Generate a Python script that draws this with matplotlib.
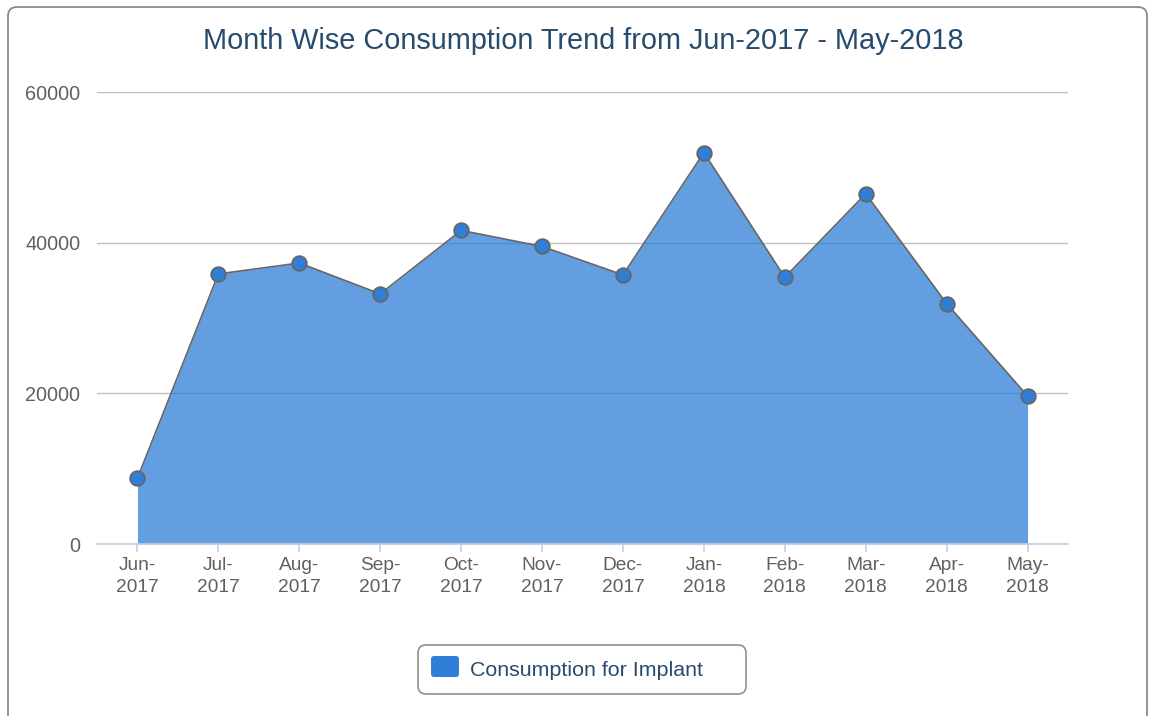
import matplotlib
matplotlib.use("Agg")
import matplotlib.pyplot as plt
from matplotlib.patches import FancyBboxPatch

plt.rcParams["font.family"] = ["Liberation Sans", "DejaVu Sans"]

# Data
months = ["Jun-\n2017", "Jul-\n2017", "Aug-\n2017", "Sep-\n2017", "Oct-\n2017", "Nov-\n2017",
          "Dec-\n2017", "Jan-\n2018", "Feb-\n2018", "Mar-\n2018", "Apr-\n2018", "May-\n2018"]
consumption = [8750, 35850, 37300, 33200, 41630, 39500,
               35720, 51960, 35400, 46490, 31920, 19640]
y_ticks = [0, 20000, 40000, 60000]
series_name = "Consumption for Implant"

BLUE = "#2F7ED8"
TITLE = "#274B6D"
LABEL = "#606060"
AXIS = "#C0D0E0"
GRID = "#C0C0C0"

fig = plt.figure(figsize=(11.5, 7.16), dpi=100)
fig.patch.set_facecolor("white")

# background frame + legend drawn in pixel coordinates
bg = fig.add_axes([0, 0, 1, 1], zorder=-5)
bg.set_xlim(0, 1150)
bg.set_ylim(716, 0)
bg.axis("off")
bg.add_patch(FancyBboxPatch((8, 7), 1139, 730,
                            boxstyle="round,pad=0,rounding_size=9",
                            facecolor="white", edgecolor="#8A8A8A", linewidth=1.3))

ax = fig.add_axes([97 / 1150, 1 - 544 / 716, (1068 - 97) / 1150, (544 - 92) / 716])
ax.patch.set_alpha(0)
x = list(range(len(months)))

ax.fill_between(x, consumption, 0, color=BLUE, alpha=0.75, linewidth=0, zorder=2)
ax.plot(x, consumption, color="#666666", linewidth=1.2, zorder=3,
        marker="o", markersize=10.5, markerfacecolor=BLUE,
        markeredgecolor="#666666", markeredgewidth=1.3)

ax.set_xlim(-0.5, len(months) - 0.5)
ax.set_ylim(0, 60000)
ax.set_yticks(y_ticks)
ax.set_yticklabels([str(v) for v in y_ticks])
ax.set_xticks(x)
ax.set_xticklabels(months, linespacing=1.45)

ax.grid(axis="y", color=GRID, linewidth=1.0, zorder=0)
ax.set_axisbelow(True)
for side in ["top", "right", "left"]:
    ax.spines[side].set_visible(False)
ax.spines["bottom"].set_color(AXIS)
ax.spines["bottom"].set_linewidth(1.2)
ax.spines["bottom"].set_zorder(4)

ax.tick_params(axis="y", length=0, pad=12, labelsize=14.3, labelcolor=LABEL)
ax.tick_params(axis="x", length=6, width=1.2, color=AXIS, pad=3,
               labelsize=13.8, labelcolor=LABEL)

fig.text(0.507, 1 - 41 / 716, "Month Wise Consumption Trend from Jun-2017 - May-2018",
         ha="center", va="center", fontsize=20.8, color=TITLE)

# legend box
bg.add_patch(FancyBboxPatch((418, 645), 328, 49,
                            boxstyle="round,pad=0,rounding_size=8",
                            facecolor="white", edgecolor="#909090", linewidth=1.2))
bg.add_patch(FancyBboxPatch((431, 656), 28, 21,
                            boxstyle="round,pad=0,rounding_size=3",
                            facecolor=BLUE, edgecolor="none"))
bg.text(470, 676, series_name, ha="left", va="baseline", fontsize=15.4, color=TITLE)

fig.savefig("out.png", dpi=100, facecolor="white")
